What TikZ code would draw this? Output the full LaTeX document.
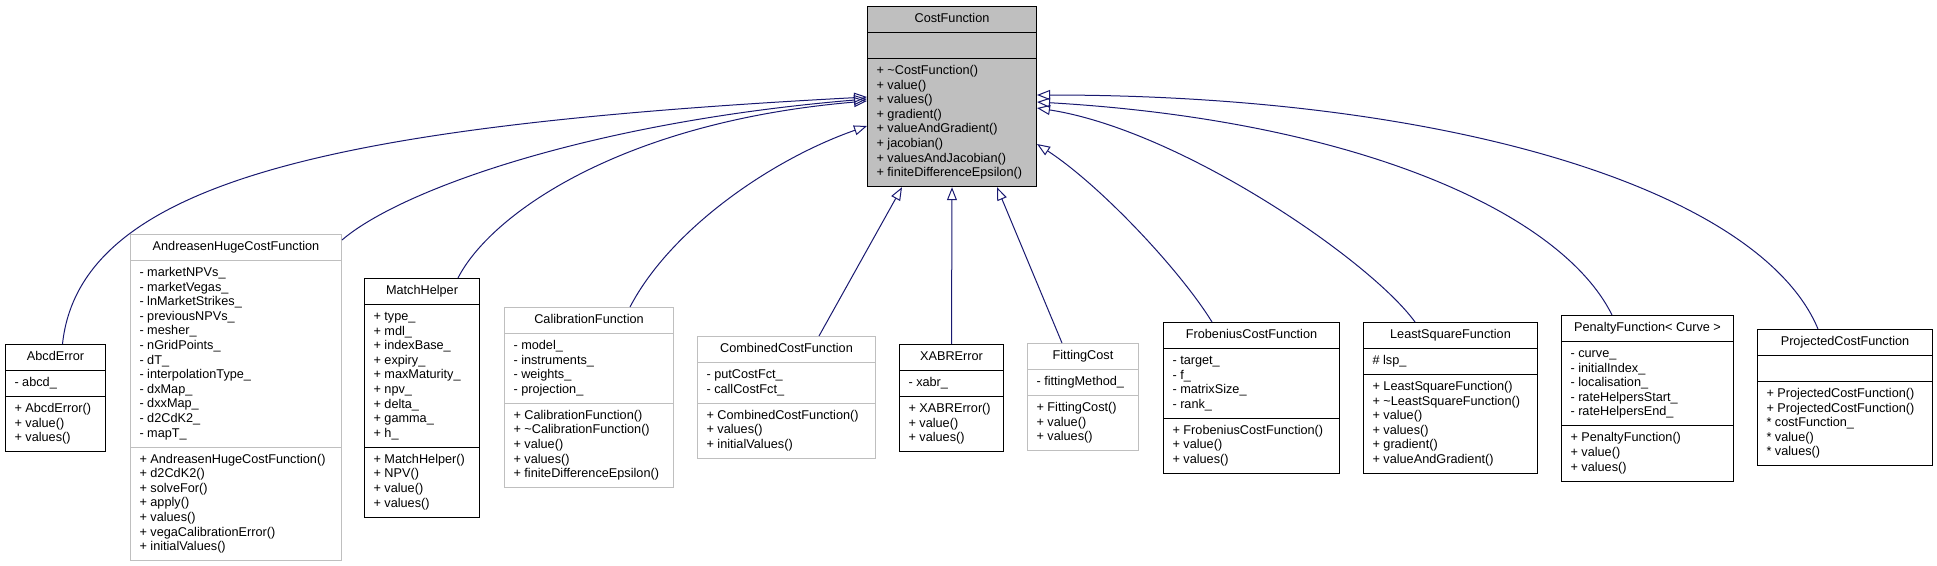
\documentclass[tikz,border=0pt]{standalone}
\usepackage{fontspec}
\setmainfont{Liberation Sans}
\usetikzlibrary{shapes.multipart,arrows.meta}
\definecolor{edgeblue}{HTML}{191970}
\definecolor{boxgray}{HTML}{BFBFBF}
\newcommand{\umlfont}{\fontsize{12.7}{14.6}\selectfont}

\begin{document}
\begin{tikzpicture}[
    x=1pt, y=-1pt,
    cls/.style={rectangle split, rectangle split parts=3, draw, line width=1pt, font=\umlfont,
        align=left, inner xsep=9pt, inner ysep=5.2pt, rectangle split part align={center,left,left},
        anchor=north west, fill=white},
    undoc/.style={cls, draw=boxgray},
    inherit/.style={-{Triangle[open, length=13pt, width=10pt]}, edgeblue, line width=1pt}
]
    \useasboundingbox (0,0) rectangle (1937,565);

    % Base class
    \node[cls, fill=boxgray, minimum width=169pt] (costfunction) at (867,6) {\strut CostFunction
        \nodepart{two}\strut
        \nodepart{three}\strut+ \textasciitilde CostFunction()\\\strut+ value()\\\strut+ values()\\\strut+ gradient()\\
        \strut+ valueAndGradient()\\\strut+ jacobian()\\\strut+ valuesAndJacobian()\\\strut+ finiteDifferenceEpsilon()};

    % Derived classes
    \node[cls, minimum width=100pt] (abcderror) at (5,344) {\strut AbcdError
        \nodepart{two}\strut- abcd\_
        \nodepart{three}\strut+ AbcdError()\\\strut+ value()\\\strut+ values()};
    \node[undoc, minimum width=211pt] (andreasen) at (130,234) {\strut AndreasenHugeCostFunction
        \nodepart{two}\strut- marketNPVs\_\\\strut- marketVegas\_\\\strut- lnMarketStrikes\_\\\strut- previousNPVs\_\\
        \strut- mesher\_\\\strut- nGridPoints\_\\\strut- dT\_\\\strut- interpolationType\_\\\strut- dxMap\_\\
        \strut- dxxMap\_\\\strut- d2CdK2\_\\\strut- mapT\_
        \nodepart{three}\strut+ AndreasenHugeCostFunction()\\\strut+ d2CdK2()\\\strut+ solveFor()\\\strut+ apply()\\
        \strut+ values()\\\strut+ vegaCalibrationError()\\\strut+ initialValues()};
    \node[cls, minimum width=115pt] (matchhelper) at (364,278) {\strut MatchHelper
        \nodepart{two}\strut+ type\_\\\strut+ mdl\_\\\strut+ indexBase\_\\\strut+ expiry\_\\\strut+ maxMaturity\_\\
        \strut+ npv\_\\\strut+ delta\_\\\strut+ gamma\_\\\strut+ h\_
        \nodepart{three}\strut+ MatchHelper()\\\strut+ NPV()\\\strut+ value()\\\strut+ values()};
    \node[undoc, minimum width=169pt] (calibration) at (504,307) {\strut CalibrationFunction
        \nodepart{two}\strut- model\_\\\strut- instruments\_\\\strut- weights\_\\\strut- projection\_
        \nodepart{three}\strut+ CalibrationFunction()\\\strut+ \textasciitilde CalibrationFunction()\\\strut+ value()\\
        \strut+ values()\\\strut+ finiteDifferenceEpsilon()};
    \node[undoc, minimum width=178pt] (combined) at (697,336) {\strut CombinedCostFunction
        \nodepart{two}\strut- putCostFct\_\\\strut- callCostFct\_
        \nodepart{three}\strut+ CombinedCostFunction()\\\strut+ values()\\\strut+ initialValues()};
    \node[cls, minimum width=104pt] (xabrerror) at (899,344) {\strut XABRError
        \nodepart{two}\strut- xabr\_
        \nodepart{three}\strut+ XABRError()\\\strut+ value()\\\strut+ values()};
    \node[undoc, minimum width=111pt] (fittingcost) at (1027,343) {\strut FittingCost
        \nodepart{two}\strut- fittingMethod\_
        \nodepart{three}\strut+ FittingCost()\\\strut+ value()\\\strut+ values()};
    \node[cls, minimum width=176pt] (frobenius) at (1163,322) {\strut FrobeniusCostFunction
        \nodepart{two}\strut- target\_\\\strut- f\_\\\strut- matrixSize\_\\\strut- rank\_
        \nodepart{three}\strut+ FrobeniusCostFunction()\\\strut+ value()\\\strut+ values()};
    \node[cls, minimum width=174pt] (leastsquare) at (1363,322) {\strut LeastSquareFunction
        \nodepart{two}\strut\# lsp\_
        \nodepart{three}\strut+ LeastSquareFunction()\\\strut+ \textasciitilde LeastSquareFunction()\\\strut+ value()\\
        \strut+ values()\\\strut+ gradient()\\\strut+ valueAndGradient()};
    \node[cls, minimum width=172pt] (penalty) at (1561,315) {\strut PenaltyFunction\textless{} Curve \textgreater
        \nodepart{two}\strut- curve\_\\\strut- initialIndex\_\\\strut- localisation\_\\\strut- rateHelpersStart\_\\
        \strut- rateHelpersEnd\_
        \nodepart{three}\strut+ PenaltyFunction()\\\strut+ value()\\\strut+ values()};
    \node[cls, minimum width=175pt] (projected) at (1757,329) {\strut ProjectedCostFunction
        \nodepart{two}\strut
        \nodepart{three}\strut+ ProjectedCostFunction()\\\strut+ ProjectedCostFunction()\\\strut* costFunction\_\\
        \strut* value()\\\strut* values()};

    % Inheritance arrows
    \draw[inherit] ([xshift=7]abcderror.north) .. controls (80,180) and (340,125) .. ([yshift=-91]costfunction.north west);
    \draw[inherit] ([yshift=-6]andreasen.north east) .. controls (400,190) and (590,122) .. ([yshift=-93]costfunction.north west);
    \draw[inherit] ([xshift=-22]matchhelper.north east) .. controls (490,215) and (620,122) .. ([yshift=-95]costfunction.north west);
    \draw[inherit] ([xshift=-44]calibration.north east) .. controls (670,230) and (770,160) .. ([yshift=-120]costfunction.north west);
    \draw[inherit] ([xshift=-57]combined.north east) -- ([xshift=35]costfunction.south west);
    \draw[inherit] (xabrerror.north) -- (costfunction.south);
    \draw[inherit] ([xshift=35]fittingcost.north west) -- ([xshift=130]costfunction.south west);
    \draw[inherit] ([xshift=49]frobenius.north west) .. controls (1180,270) and (1100,185) .. ([yshift=-138]costfunction.north east);
    \draw[inherit] ([xshift=52]leastsquare.north west) .. controls (1370,260) and (1180,130) .. ([yshift=-102]costfunction.north east);
    \draw[inherit] ([xshift=51]penalty.north west) .. controls (1560,210) and (1350,120) .. ([yshift=-96]costfunction.north east);
    \draw[inherit] ([xshift=61]projected.north west) .. controls (1760,190) and (1450,95) .. ([yshift=-89]costfunction.north east);
\end{tikzpicture}
\end{document}
